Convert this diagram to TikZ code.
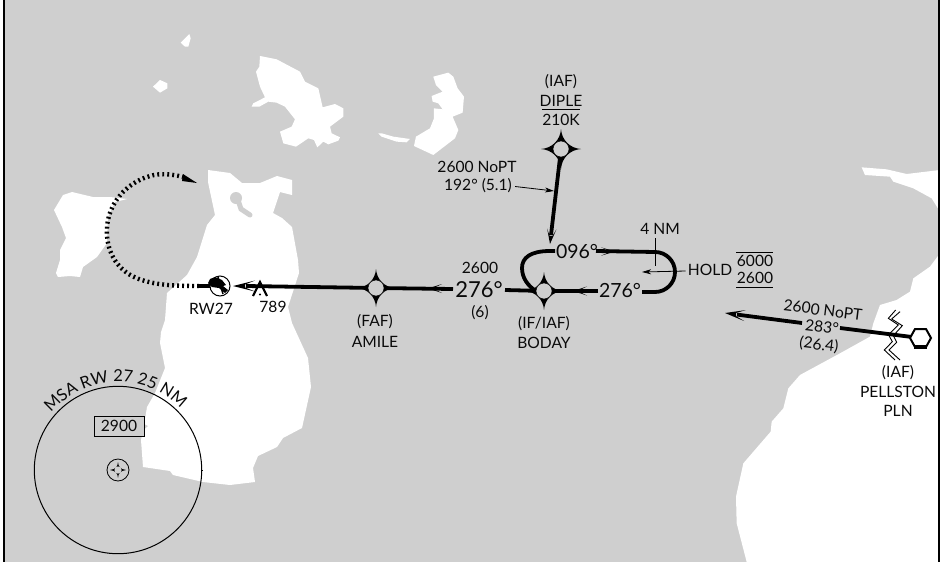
\documentclass[tikz,border=0pt]{standalone}
\usepackage{fontspec}
\setmainfont{Lato}
\usetikzlibrary{arrows.meta,decorations.text,calc}
\definecolor{seagray}{HTML}{CFCFCF}
\definecolor{ink}{HTML}{0A0A0A}
\tikzset{
  x=1pt,y=-1pt,
  land/.style={fill=white,draw=none},
  lbl/.style={inner sep=0pt,font=\fontsize{15.6}{15.6}\selectfont,text=ink},
  biglbl/.style={inner sep=0pt,font=\fontsize{22}{22}\selectfont,text=ink},
  midlbl/.style={inner sep=0pt,font=\fontsize{19.5}{19.5}\selectfont,text=ink},
  route/.style={line width=3.8pt,draw=black},
  thinline/.style={line width=0.9pt,draw=black},
  fine/.style={-{Stealth[length=9pt,width=5pt,inset=2.5pt]},line width=0.8pt},
  dotpath/.style={line width=4.4pt,draw=black,dash pattern=on 1.9pt off 3.1pt},
  pt/.style={circle,inner sep=0pt,minimum size=0pt},
}
\newcommand{\barbtip}[4]{%
  \begin{scope}[shift={(#1)},rotate=#2]
  \fill[black] (0,0) -- (-#3,-#4) -- (-#3*0.55,-1.5) -- (-#3*0.55,1.5) -- (-#3,#4) -- cycle;
  \end{scope}}
\newcommand{\fixstar}[2]{%
  \fill[black] (#1) ++(0,-#2) .. controls ++(0.7,#2*0.55) and ++(-#2*0.55,-0.7) .. ++(#2,#2)
    .. controls ++(-#2*0.55,0.7) and ++(0.7,-#2*0.55) .. ++(-#2,#2)
    .. controls ++(-0.7,-#2*0.55) and ++(#2*0.55,0.7) .. ++(-#2,-#2)
    .. controls ++(#2*0.55,-0.7) and ++(-0.7,#2*0.55) .. ++(#2,-#2) -- cycle;
  \filldraw[fill=seagray,draw=black,line width=0.5pt] (#1) circle (8);
}
\begin{document}
\begin{tikzpicture}
\useasboundingbox (0,0) rectangle (941,562);
\fill[white] (0,0) rectangle (941,562);
\fill[seagray] (4,0) rectangle (939,562);

% west island, main island
\fill[land] (54,210)--(63,195)--(72,192)--(93,197)--(110,197)--(127,199)--(115,202)--(108,217)--(107,243)--(97,257)--(83,267)--(80,277)--(70,276)--(58,277)--(56,273)--(60,260)--(60,250)--(66,238)--(62,227)--cycle;
\fill[land] (208,170)--(230,173)--(242,183)--(260,183)--(277,176)--(292,180)--(292,195)--(280,192)--(273,213)--(282,218)--(292,227)--(298,260)--(299,273)--(288,307)--(292,323)--(308,358)--(311,387)--(302,428)--(283,438)--(277,447)--(258,456)--(253,468)--(255,482)--(230,485)--(203,482)--(173,475)--(170,471)--(143,467)--(141,440)--(144,425)--(147,407)--(155,393)--(165,368)--(160,343)--(161,332)--(165,320)--(167,293)--(187,275)--(197,257)--(207,225)--(215,215)--(208,182)--cycle;
\fill[seagray] (236,198) circle (6);
\draw[seagray,line width=5pt,line cap=round] (238,200) -- (241,209) -- (250,215);
\fill[seagray] (142,423)--(148,426)--(142,431)--cycle;

% northern islands, in zoomed coordinates
\begin{scope}[shift={(160,20)},scale=0.3333]
\fill[land] (62,68)--(88,42)--(92,55)--(85,80)--(75,80)--cycle;
\fill[land] (-21,200)--(0,180)--(22,190)--(22,205)--(0,218)--cycle;
\fill[land] (300,108)--(350,118)--(420,155)--(435,185)--(475,205)--(488,262)--(525,252)--(550,265)--(550,290)--(510,320)--(515,340)--(540,352)--(535,362)--(505,373)--(490,365)--(472,382)--(462,360)--(445,355)--(408,380)--(370,370)--(360,335)--(395,320)--(405,298)--(375,260)--(350,248)--(325,245)--(298,260)--(275,260)--(280,250)--(315,232)--(300,200)--(288,155)--(298,140)--cycle;
\fill[land] (820,170)--(865,158)--(880,170)--(893,205)--(912,230)--(908,278)--(878,290)--(895,330)--(885,355)--(820,405)--(762,378)--(768,350)--(810,325)--(822,295)--(822,265)--(848,268)--(835,250)--(818,245)--(815,228)--(848,215)--(828,195)--cycle;
\fill[land] (655,340)--(665,340)--(700,350)--(750,357)--(740,367)--(710,365)--(665,350)--cycle;
\end{scope}
% eastern land
\begin{scope}[shift={(700,150)},scale=0.3333]
\fill[land] (485,52)--(560,58)--(620,72)--(720,60)--(720,185)--(695,145)--(640,115)--(580,95)--(570,80)--(495,75)--cycle;
\fill[land] (720,310)--(690,350)--(640,385)--(630,425)--(590,450)--(540,465)--(520,520)--(510,560)--(420,610)--(300,675)--(265,715)--(250,775)--(215,815)--(212,845)--(130,940)--(108,1040)--(110,1120)--(140,1236)--(720,1236)--cycle;
\end{scope}

% frame
\draw[line width=2.4pt,black] (4,0) -- (4,562);
\draw[line width=2.4pt,black] (939,0) -- (939,562);

% named positions
\node[pt] (diple) at (561,149) {};
\node[pt] (boday) at (544,291) {};
\node[pt] (amile) at (376,288) {};
\node[pt] (pln) at (920,338) {};
\node[pt] (rw) at (220,286) {};
\coordinate (dipletip) at (550,244);
\coordinate (dipleend) at (551,235);
\coordinate (t1) at (555,251);
\coordinate (t2) at (596,251);
\coordinate (t3) at (655,252);
\coordinate (toptip) at (615,251.5);
\coordinate (b1) at (642,292);
\coordinate (b2) at (598,291);
\coordinate (bottip) at (573,291);
\coordinate (l1) at (505,290);
\coordinate (l2) at (453,289);
\coordinate (lefttip) at (428,288.5);
\coordinate (rwtip) at (233,286);
\coordinate (rwend) at (246,286);
\coordinate (plntip) at (725,313);
\coordinate (plnend) at (737,314.6);
\coordinate (p1) at (802,323);
\coordinate (p2) at (840,328);

% routes
\draw[route] (diple) -- (dipleend);
\draw[route] (t1) -- (550,251) .. controls (530,251) and (522,258) .. (522,268) .. controls (522,278) and (528,286) .. (536,291);
\draw[route] (t2) -- (t3) arc (-90:90:20) -- (b1);
\draw[route] (b2) -- (boday);
\draw[route] (l1) -- (boday);
\draw[route] (l2) -- (amile);
\draw[route] (amile) -- (rwend);
\draw[route] (p1) -- (plnend);
\draw[route] (p2) -- (pln);
\barbtip{dipletip}{263.4}{15}{4.6}
\barbtip{toptip}{0}{14}{4.2}
\barbtip{bottip}{180}{14}{4.5}
\barbtip{lefttip}{180}{14}{4.5}
\barbtip{rwtip}{180}{22}{5.5}
\barbtip{plntip}{172.6}{20}{5.5}

% dotted track
\draw[route] (rw) -- (199,286);
\draw[dotpath] (199,286) .. controls (172,286) and (150,285) .. (132,276) .. controls (112,265) and (106,245) .. (107,228) .. controls (108,205) and (125,183) .. (150,176) .. controls (160,173) and (172,174) .. (183,177);
\fill[black] (197,183) -- (183,174) -- (182,181) -- cycle;

% airport
\filldraw[fill=white,draw=black,line width=1pt] (rw) circle (10);
\fill[black] (210,279) -- (215,277) -- (222,280) -- (226,285) -- (223,286) -- (228,290) -- (225,293) -- (219,288) -- (212,287) -- (208,283) -- cycle;
\draw[line width=1.5pt] (218,277) -- (223,294);

% obstacle
\draw[line width=2.2pt,black,line cap=butt] (253,296) -- (260,282) -- (267,296);
\fill[black] (260,294.5) circle (1.1);

% fixes
\fixstar{diple}{20}
\fixstar{boday}{19}
\fixstar{amile}{19}

% VOR hexagon
\draw[black,line width=2pt,fill=white] (910,338) -- (915,329) -- (926,329) -- (931,338) -- (926,347) -- (915,347) -- cycle;
\fill[black] (914,345) rectangle (927,349);

% break mark
\begin{scope}[shift={(875,305)},scale=0.3333,line width=0.9pt]
\draw[black] (42,88)--(70,60)--(40,40)--(62,15);
\draw[black] (55,92)--(82,62)--(50,42)--(75,20);
\draw[black] (42,92)--(52,110)--(28,135)--(60,165);
\draw[black] (55,92)--(65,112)--(42,135)--(75,165);
\end{scope}

% hold tick and thin leaders
\coordinate (tickt) at (655,238);
\coordinate (tickb) at (655,266);
\draw[thinline] (tickt) -- (tickb);
\node[lbl] (fournm) at (660,229) {4 NM};
\node[lbl] (hold) at (710,270) {HOLD};
\draw[fine] (hold.west) ++(-2,1) -- (642,272);
\node[lbl] (h6000) at (755,261) {6000};
\node[lbl] (h2600) at (755,278) {2600};
\draw[thinline] (736,252) -- (773,252);
\draw[thinline] (736,287) -- (773,287);

% texts
\node[lbl] (iafd) at (561,82) {(IAF)};
\node[lbl] (dname) at (561,101) {DIPLE};
\draw[thinline] (542,109.5) -- (580,109.5);
\node[lbl] (dspd) at (561,120) {210K};
\node[lbl] (dnopt) at (477,167) {2600 NoPT};
\node[lbl] (dcrs) at (478,186) {192° (5.1)};
\draw[fine] (dcrs.east) ++(3,0.5) -- (554,191);

\node[midlbl] (c096) at (577,252) {096°};
\node[midlbl] (c276b) at (620,291) {276°};
\node[lbl] (a2600) at (480,268) {2600};
\node[biglbl] (c276a) at (479,290) {276°};
\node[lbl] (adist) at (480,313) {(6)};
\node[lbl] (biaf) at (544,324) {(IF/IAF)};
\node[lbl] (bname) at (544,343) {BODAY};
\node[lbl] (afaf) at (375,322) {(FAF)};
\node[lbl] (aname) at (375,342) {AMILE};
\node[lbl] (rwname) at (211,309) {RW27};
\node[lbl] (elev) at (273,307) {789};

\node[lbl,rotate=-7] (pnopt) at (823,310) {2600 NoPT};
\node[lbl,rotate=-7] (pcrs) at (822,327) {283°};
\node[lbl,rotate=-7] (pdist) at (819,345) {(26.4)};
\node[lbl] (piaf) at (898,373) {(IAF)};
\node[lbl] (pname) at (898,392) {PELLSTON};
\node[lbl] (pid) at (898,411) {PLN};

% MSA circle
\coordinate (msac) at (118,470);
\draw[line width=1pt,black] (msac) circle (83.7);
\draw[line width=0.8pt,black] (201,470) -- (203,470);
\draw[line width=0.8pt,black] (118,470) circle (11);
\fill[black] (118,462) .. controls (118.5,467) and (120,469) .. (126,470) .. controls (120,471) and (118.5,473) .. (118,478) .. controls (117.5,473) and (116,471) .. (110,470) .. controls (116,469) and (117.5,467) .. (118,462) -- cycle;
\fill[seagray] (118,470) circle (3.6);
\node[lbl,draw=black,line width=0.9pt,fill=seagray,minimum width=50pt,minimum height=20pt] (msabox) at (119,426) {2900};
\begin{scope}[y=1pt]
\path[postaction={decorate,decoration={text along path,text align=center,
   text={|\fontsize{16.5}{16.5}\selectfont\color{ink}|MSA RW 27 25 NM}}}]
  (118,-470) ++(150:88) arc (150:34:88);
\end{scope}
\end{tikzpicture}
\end{document}
